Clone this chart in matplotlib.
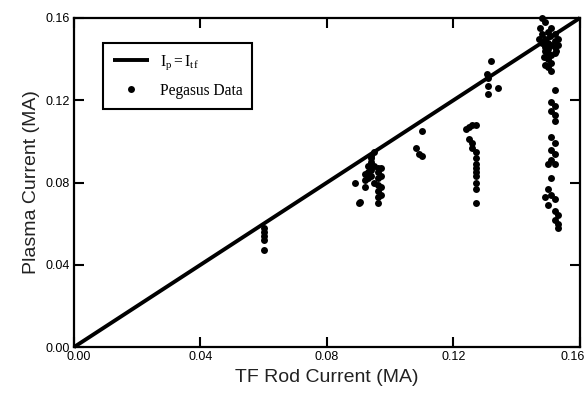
import numpy as np
import matplotlib.pyplot as plt
from matplotlib.transforms import ScaledTranslation

plt.rcParams['font.family'] = ['Liberation Sans', 'DejaVu Sans']
plt.rcParams['mathtext.fontset'] = 'custom'
plt.rcParams['mathtext.rm'] = 'Liberation Serif'
plt.rcParams['mathtext.it'] = 'Liberation Serif'

# Pegasus data (MA)
tf_current = [
    # ~0.06
    0.060, 0.060, 0.060, 0.060, 0.060,
    # ~0.09-0.097
    0.089, 0.090, 0.0905, 0.092, 0.092, 0.093, 0.093, 0.093, 0.094, 0.094,
    0.094, 0.094, 0.095, 0.095, 0.095, 0.096, 0.096, 0.096, 0.096, 0.096,
    0.096, 0.096, 0.097, 0.097, 0.097, 0.097, 0.094, 0.092,
    # ~0.109
    0.108, 0.109, 0.110, 0.110,
    # ~0.126
    0.124, 0.125, 0.126, 0.127, 0.125, 0.126, 0.126, 0.127, 0.127, 0.127,
    0.127, 0.127, 0.127, 0.127, 0.127, 0.127,
    # ~0.132
    0.1305, 0.131, 0.132, 0.131, 0.134, 0.131,
    # ~0.15
    0.148, 0.149, 0.1475, 0.148, 0.149, 0.150, 0.151, 0.152, 0.153, 0.148,
    0.149, 0.150, 0.151, 0.152, 0.153, 0.149, 0.150, 0.151, 0.152, 0.150,
    0.151, 0.150, 0.151, 0.150, 0.152, 0.147, 0.1485, 0.1505, 0.1525, 0.149,
    0.152, 0.151, 0.152, 0.151, 0.152, 0.152,
    0.151, 0.152, 0.151, 0.152, 0.151, 0.150, 0.152,
    0.151, 0.150, 0.149, 0.151, 0.152, 0.150, 0.152, 0.153, 0.152, 0.153, 0.153,
]
plasma_current = [
    0.058, 0.056, 0.054, 0.052, 0.047,
    0.080, 0.070, 0.0705, 0.084, 0.081, 0.088, 0.085, 0.082, 0.092, 0.090,
    0.086, 0.083, 0.095, 0.088, 0.080, 0.087, 0.085, 0.082, 0.079, 0.076,
    0.073, 0.070, 0.087, 0.083, 0.078, 0.074, 0.093, 0.078,
    0.097, 0.094, 0.105, 0.093,
    0.106, 0.107, 0.108, 0.108, 0.101, 0.099, 0.097, 0.095, 0.092, 0.089,
    0.087, 0.085, 0.083, 0.080, 0.077, 0.070,
    0.133, 0.131, 0.139, 0.127, 0.126, 0.123,
    0.160, 0.158, 0.155, 0.152, 0.150, 0.153, 0.155, 0.152, 0.150, 0.148,
    0.146, 0.148, 0.147, 0.146, 0.147, 0.144, 0.143, 0.142, 0.143, 0.140,
    0.138, 0.136, 0.134, 0.145, 0.149, 0.150, 0.141, 0.151, 0.144, 0.137,
    0.125, 0.119, 0.117, 0.115, 0.113, 0.110,
    0.102, 0.099, 0.096, 0.094, 0.091, 0.089, 0.089,
    0.082, 0.077, 0.073, 0.074, 0.072, 0.069, 0.066, 0.064, 0.062, 0.060, 0.058,
]

line_x = [0.0, 0.16]
line_y = [0.0, 0.16]
ticks = [0.00, 0.04, 0.08, 0.12, 0.16]

fig = plt.figure(figsize=(5.87, 3.99), dpi=100)
ax = fig.add_axes([0.126, 0.130, 0.862, 0.825])

ax.plot(line_x, line_y, color='black', lw=2.8, solid_capstyle='butt',
        label=r'$\mathrm{I_p = I_{tf}}$', clip_on=False, zorder=3)
ax.plot(tf_current, plasma_current, 'o', color='black', ms=5, mew=0,
        label='Pegasus Data', clip_on=False, zorder=4)

ax.set_xlim(0, 0.16)
ax.set_ylim(0, 0.16)
ax.set_xticks(ticks)
ax.set_yticks(ticks)
ax.set_xticklabels(['%.2f' % t for t in ticks])
ax.set_yticklabels(['%.2f' % t for t in ticks])
ax.tick_params(direction='in', length=7, width=1.5, top=True, right=True,
               labelsize=9, pad=3, colors='black')
for s in ax.spines.values():
    s.set_linewidth(1.6)

# nudge end labels like the original
xl = ax.get_xticklabels()
xl[0].set_transform(xl[0].get_transform() + ScaledTranslation(5 / 100, 0, fig.dpi_scale_trans))
xl[-1].set_transform(xl[-1].get_transform() + ScaledTranslation(-7 / 100, 0, fig.dpi_scale_trans))

ax.set_xlabel('TF Rod Current (MA)', fontsize=14, labelpad=4, color='#222222')
ax.set_ylabel('Plasma Current (MA)', fontsize=14, labelpad=4, color='#222222')

leg = ax.legend(loc='upper left', bbox_to_anchor=(0.057, 0.924),
                borderaxespad=0, fancybox=False, edgecolor='black',
                framealpha=1, handlelength=2.3, handletextpad=0.7,
                borderpad=0.65, labelspacing=0.7,
                prop={'family': 'Liberation Serif', 'size': 11.2})
leg.get_frame().set_linewidth(1.5)

fig.savefig('out.png', dpi=100)
